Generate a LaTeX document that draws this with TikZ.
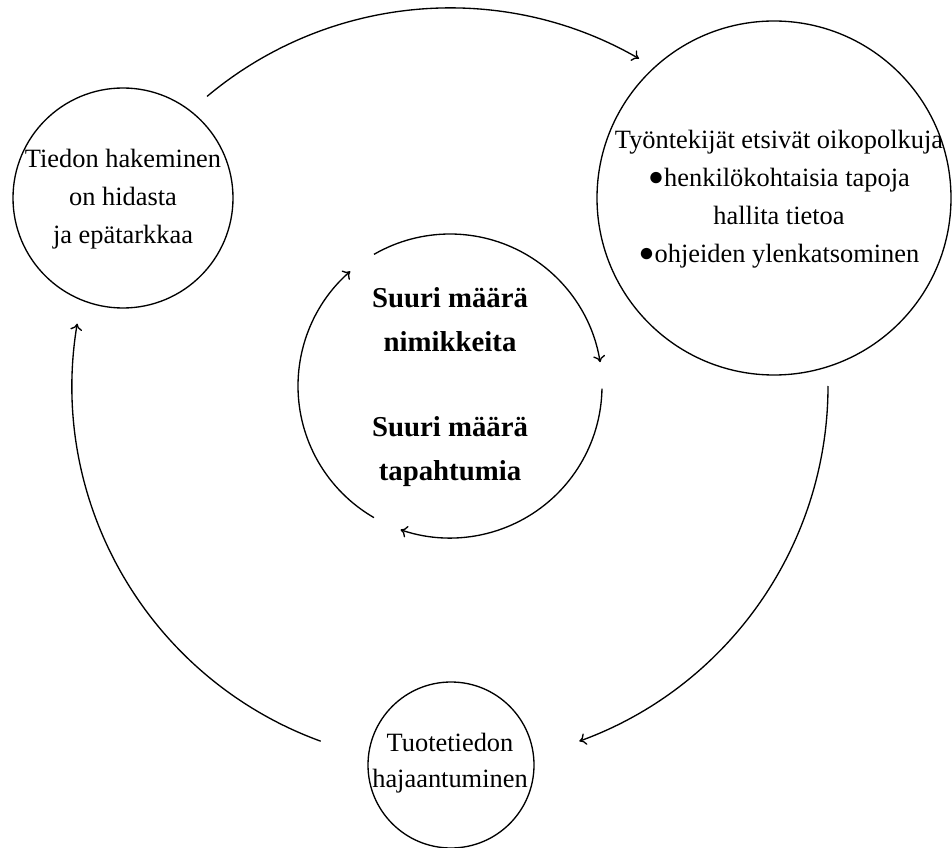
\documentclass[tikz,border=0pt]{standalone}
\usepackage{fontspec}
\setmainfont{Liberation Serif}
\usetikzlibrary{arrows.meta}
\newcommand{\bigbul}{\raisebox{0.5pt}{●}}
\begin{document}
\begin{tikzpicture}[x=0.75pt,y=0.75pt,
  bubble/.style={draw, circle, line width=1pt, inner sep=0pt},
  txt/.style={inner sep=0pt, align=center, font=\fontsize{19.8}{28.5}\selectfont},
  boldtxt/.style={inner sep=0pt, align=center, font=\fontsize{21.6}{33}\selectfont\bfseries},
  flow/.style={line width=1pt, -{To[length=5pt,width=9pt]}}]
\useasboundingbox (0,0) rectangle (952,-848);
% circles
\node[bubble, minimum size=165pt] (L) at (123,-198) {};
\node[bubble, minimum size=265.5pt] (R) at (774,-198) {};
\node[bubble, minimum size=124.5pt] (B) at (451,-765) {};
% texts
\node[txt] (Lt) at (123,-199) {Tiedon hakeminen\\on hidasta\\ja epätarkkaa};
\node[txt] (Rt) at (779,-199) {Työntekijät etsivät oikopolkuja\\\bigbul henkilökohtaisia tapoja\\hallita tietoa\\\bigbul ohjeiden ylenkatsominen};
\node[txt] (Bt) at (450,-763) {Tuotetiedon\\[-2pt]hajaantuminen};
\node[boldtxt] (Ct) at (450,-387) {Suuri määrä\\nimikkeita\\[31pt]Suuri määrä\\tapahtumia};
% cycle centre
\coordinate (ctr) at (450,-386);
\path (ctr) ++(130:378) coordinate (o1);
\path (ctr) ++(0:378) coordinate (o2);
\path (ctr) ++(250:378) coordinate (o3);
\path (ctr) ++(120:152) coordinate (i1);
\path (ctr) ++(-1:152) coordinate (i2);
\path (ctr) ++(240:152) coordinate (i3);
% outer arrows
\draw[flow] (o1) arc[start angle=130, end angle=60, radius=378];
\draw[flow] (o2) arc[start angle=0, end angle=-70, radius=378];
\draw[flow] (o3) arc[start angle=250, end angle=170.5, radius=378];
% inner arrows
\draw[flow] (i1) arc[start angle=120, end angle=9, radius=152];
\draw[flow] (i2) arc[start angle=-1, end angle=-109, radius=152];
\draw[flow] (i3) arc[start angle=240, end angle=131, radius=152];
\end{tikzpicture}
\end{document}
